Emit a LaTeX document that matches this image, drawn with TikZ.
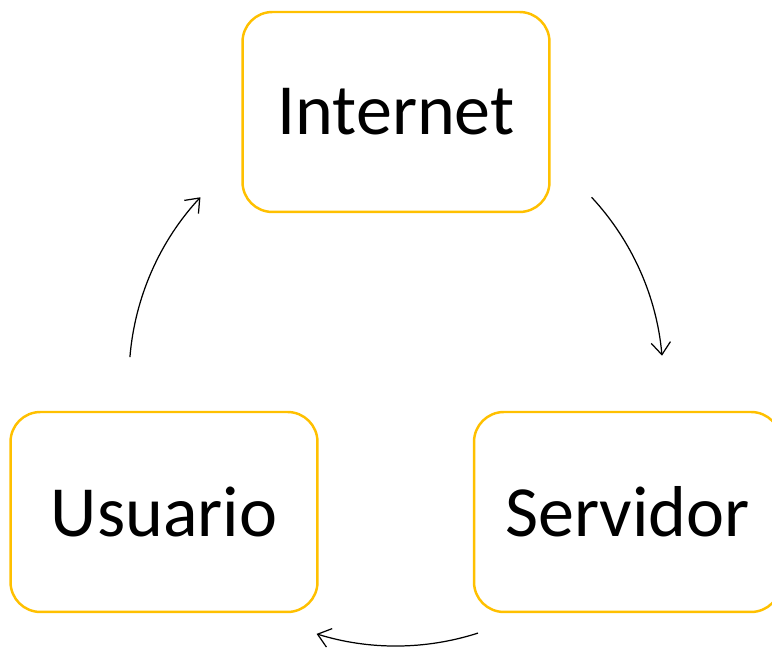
\documentclass[tikz,border=0pt]{standalone}
\usepackage{fontspec}
\setmainfont{Carlito}
\usepackage{xcolor}
\usepackage{tikz}
\usetikzlibrary{arrows.meta}
\definecolor{boxgold}{HTML}{FFC000}
\tikzstyle{cyclebox}=[rectangle,rounded corners=17pt,draw=boxgold,line width=1.4pt,minimum width=6.14cm,minimum height=4cm,inner sep=0pt,font=\fontsize{41}{49}\selectfont]
\tikzstyle{cycleedge}=[draw,line width=0.7pt,-{Straight Barb[length=7pt,width=11pt]}]

\begin{document}
\begin{tikzpicture}[x=0.02cm,y=0.02cm]

 \useasboundingbox (0,0) rectangle (772,648);
 \coordinate (c) at (396,269);

 %Boxes
 \foreach \x/\y/\name/\label in {396/536/internet/Internet, 164/136/usuario/Usuario, 627.5/136/servidor/Servidor}
        \node[cyclebox] (\name) at (\x,\y) {\label};

 %Arrows
 \foreach \name/\from/\to in {a1/42.9/5, a2/-72.1/-107.3, a3/175.3/137.1}
   {
        \coordinate (\name) at ([shift={(\from:267)}]c);
        \path[cycleedge] (\name) arc[start angle=\from, end angle=\to, radius=267];
   }

\end{tikzpicture}
\end{document}
